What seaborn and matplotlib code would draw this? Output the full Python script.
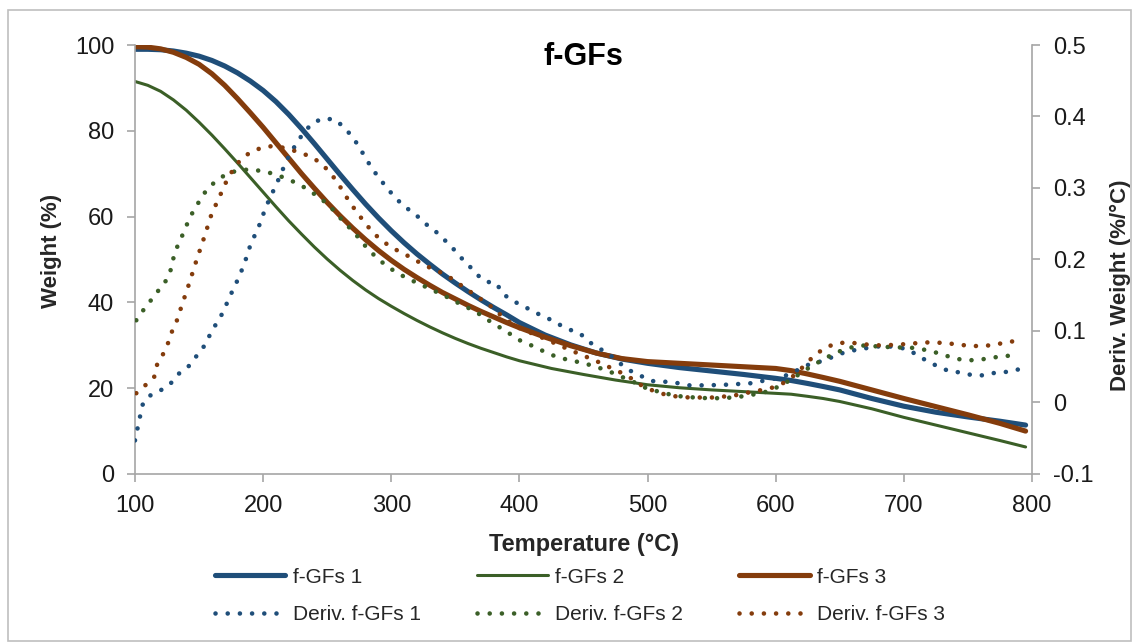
import matplotlib
matplotlib.use("Agg")
import matplotlib.pyplot as plt
from matplotlib.patches import Rectangle
import seaborn as sns
import pandas as pd

# ---------------- data ----------------
t_w1 = [100, 110, 120, 130, 140, 150, 160, 170, 180, 190, 200, 210, 220, 230, 240, 250, 260, 270, 280, 290,
        300, 310, 320, 330, 340, 350, 360, 370, 380, 390, 400, 420, 440, 460, 480, 500, 525, 550, 575, 600,
        612, 625, 637, 650, 675, 700, 725, 750, 775, 795]
w1 = [99.0, 99.0, 98.9, 98.6, 98.1, 97.4, 96.4, 95.1, 93.5, 91.6, 89.4, 86.8, 83.8, 80.5, 77.0, 73.4, 69.8,
      66.3, 62.9, 59.7, 56.7, 53.9, 51.3, 48.9, 46.6, 44.5, 42.5, 40.6, 38.8, 37.1, 35.3, 32.4, 30.1, 28.2,
      26.8, 25.8, 24.8, 24.0, 23.2, 22.3, 21.8, 21.1, 20.4, 19.6, 17.6, 15.8, 14.4, 13.3, 12.3, 11.4]

t_w2 = [100, 110, 120, 130, 140, 150, 160, 170, 180, 190, 200, 210, 220, 230, 240, 250, 260, 270, 280, 290,
        300, 310, 320, 330, 340, 350, 360, 370, 380, 390, 400, 425, 450, 475, 500, 525, 550, 575, 600, 612,
        625, 637, 650, 675, 700, 725, 750, 775, 795]
w2 = [91.5, 90.6, 89.2, 87.2, 84.8, 82.0, 79.0, 75.8, 72.5, 69.1, 65.7, 62.3, 59.0, 55.9, 52.9, 50.1, 47.5,
      45.1, 42.9, 40.9, 39.1, 37.4, 35.8, 34.3, 32.9, 31.6, 30.4, 29.3, 28.3, 27.3, 26.4, 24.6, 23.2, 21.9,
      20.8, 20.1, 19.6, 19.2, 18.8, 18.6, 18.1, 17.6, 16.9, 15.2, 13.2, 11.4, 9.6, 7.8, 6.3]

t_w3 = [100, 110, 120, 130, 140, 150, 160, 170, 180, 190, 200, 210, 220, 230, 240, 250, 260, 270, 280, 290,
        300, 310, 320, 330, 340, 350, 360, 370, 380, 390, 400, 420, 440, 460, 480, 500, 525, 550, 575, 600,
        612, 625, 637, 650, 675, 700, 725, 750, 775, 795]
w3 = [99.6, 99.5, 99.1, 98.3, 97.1, 95.5, 93.3, 90.6, 87.5, 84.2, 80.8, 77.2, 73.6, 70.0, 66.6, 63.3, 60.2,
      57.3, 54.6, 52.1, 49.8, 47.7, 45.8, 44.0, 42.3, 40.8, 39.3, 37.9, 36.6, 35.3, 34.1, 31.9, 29.9, 28.2,
      26.9, 26.2, 25.8, 25.4, 25.0, 24.6, 24.1, 23.3, 22.5, 21.6, 19.6, 17.6, 15.7, 13.8, 11.8, 10.0]

t_d1 = [100, 102, 104, 106, 111, 120, 128, 134, 142, 148, 154, 158, 163, 168, 172, 176, 180, 184, 187, 190,
        194, 198, 201, 205, 209, 213, 217, 221, 226, 231, 238, 246, 256, 263, 270, 275, 280, 285, 291, 297,
        303, 310, 318, 325, 333, 340, 347, 353, 360, 366, 374, 382, 387, 395, 404, 412, 421, 430, 439, 447,
        455, 463, 471, 479, 487, 495, 504, 514, 524, 532, 546, 563, 581, 592, 601, 610, 620, 628, 637, 646,
        655, 664, 674, 683, 692, 702, 710, 718, 726, 735, 744, 754, 763, 772, 782, 791]
d1 = [-0.053, -0.036, -0.019, -0.003, 0.009, 0.017, 0.027, 0.040, 0.051, 0.065, 0.079, 0.093, 0.109, 0.124,
      0.140, 0.156, 0.171, 0.188, 0.203, 0.220, 0.236, 0.252, 0.268, 0.285, 0.300, 0.316, 0.333, 0.348,
      0.362, 0.376, 0.390, 0.397, 0.396, 0.385, 0.371, 0.357, 0.342, 0.327, 0.313, 0.299, 0.287, 0.274,
      0.265, 0.252, 0.242, 0.230, 0.218, 0.205, 0.193, 0.180, 0.169, 0.167, 0.152, 0.142, 0.134, 0.126,
      0.119, 0.110, 0.102, 0.097, 0.084, 0.075, 0.066, 0.054, 0.044, 0.037, 0.030, 0.029, 0.027, 0.024,
      0.024, 0.025, 0.027, 0.031, 0.034, 0.039, 0.048, 0.055, 0.058, 0.065, 0.071, 0.074, 0.077, 0.079,
      0.078, 0.075, 0.067, 0.058, 0.051, 0.044, 0.042, 0.038, 0.038, 0.042, 0.043, 0.047]

t_d2 = [101, 106, 112, 118, 124, 128, 130, 133, 137, 141, 145, 150, 155, 162, 170, 179, 189, 198, 208, 217,
        226, 234, 242, 250, 257, 263, 270, 276, 282, 289, 297, 305, 313, 322, 331, 340, 348, 357, 366, 374,
        382, 391, 399, 408, 416, 426, 435, 445, 454, 463, 472, 481, 490, 499, 509, 518, 528, 537, 547, 557,
        566, 576, 585, 595, 604, 613, 621, 629, 638, 646, 655, 665, 674, 684, 693, 704, 713, 723, 732, 741,
        751, 760, 770, 780, 789]
d2 = [0.115, 0.128, 0.142, 0.156, 0.170, 0.186, 0.202, 0.218, 0.234, 0.251, 0.266, 0.281, 0.295, 0.308,
      0.318, 0.324, 0.326, 0.324, 0.320, 0.314, 0.307, 0.299, 0.289, 0.278, 0.265, 0.252, 0.240, 0.227,
      0.214, 0.202, 0.190, 0.181, 0.173, 0.166, 0.158, 0.151, 0.143, 0.135, 0.127, 0.117, 0.108, 0.098,
      0.088, 0.081, 0.074, 0.066, 0.061, 0.057, 0.053, 0.048, 0.042, 0.035, 0.028, 0.020, 0.015, 0.011,
      0.008, 0.007, 0.006, 0.006, 0.007, 0.009, 0.012, 0.016, 0.024, 0.033, 0.043, 0.052, 0.061, 0.069,
      0.075, 0.080, 0.079, 0.078, 0.077, 0.077, 0.075, 0.071, 0.066, 0.061, 0.059, 0.060, 0.063, 0.065,
      0.067]

t_d3 = [101, 108, 115, 117, 122, 126, 129, 133, 136, 139, 142, 145, 148, 151, 154, 157, 160, 164, 168, 172,
        177, 183, 191, 200, 209, 219, 228, 237, 245, 252, 258, 263, 268, 274, 280, 286, 293, 301, 310, 318,
        327, 335, 344, 352, 360, 368, 376, 383, 391, 400, 420, 440, 460, 479, 488, 496, 505, 514, 524, 533,
        543, 553, 563, 572, 581, 591, 600, 609, 617, 624, 631, 639, 648, 657, 667, 676, 686, 695, 705, 714,
        724, 733, 743, 752, 762, 772, 781, 791]
d3 = [0.013, 0.024, 0.036, 0.052, 0.068, 0.084, 0.100, 0.116, 0.133, 0.149, 0.165, 0.182, 0.199, 0.215,
      0.231, 0.248, 0.265, 0.280, 0.296, 0.312, 0.327, 0.341, 0.351, 0.357, 0.359, 0.355, 0.350, 0.344,
      0.335, 0.322, 0.308, 0.293, 0.279, 0.264, 0.250, 0.237, 0.226, 0.216, 0.208, 0.200, 0.191, 0.185,
      0.177, 0.167, 0.157, 0.147, 0.137, 0.126, 0.114, 0.104, 0.089, 0.073, 0.058, 0.042, 0.033, 0.023,
      0.016, 0.011, 0.008, 0.007, 0.007, 0.007, 0.009, 0.011, 0.015, 0.018, 0.022, 0.030, 0.042, 0.055,
      0.067, 0.077, 0.083, 0.084, 0.082, 0.080, 0.080, 0.081, 0.082, 0.084, 0.084, 0.083, 0.081, 0.079,
      0.079, 0.081, 0.085, 0.086]

x_ticks = [100, 200, 300, 400, 500, 600, 700, 800]
y_ticks = [0, 20, 40, 60, 80, 100]
y2_ticks = [-0.1, 0, 0.1, 0.2, 0.3, 0.4, 0.5]

names_w = ["f-GFs 1", "f-GFs 2", "f-GFs 3"]
names_d = ["Deriv. f-GFs 1", "Deriv. f-GFs 2", "Deriv. f-GFs 3"]
colors = ["#1f4e79", "#3b5f27", "#843c0c"]

# ---------------- style ----------------
sns.set_theme(style="white")
plt.rcParams["font.family"] = ["Liberation Sans", "DejaVu Sans"]
plt.rcParams["axes.unicode_minus"] = False

W, H = 1132, 642
fig = plt.figure(figsize=(W / 100, H / 100), dpi=100)
L, R, T, B = 135, 1032, 45, 474
ax = fig.add_axes([L / W, 1 - B / H, (R - L) / W, (B - T) / H])
ax2 = ax.twinx()

thick = [3.7, 2.2, 3.7]
w_data = [(t_w1, w1), (t_w2, w2), (t_w3, w3)]
d_data = [(t_d1, d1), (t_d2, d2), (t_d3, d3)]

handles = []
for i in range(3):
    tx, ty = w_data[i]
    df = pd.DataFrame({"T": tx, "v": ty})
    sns.lineplot(data=df, x="T", y="v", ax=ax, color=colors[i], lw=thick[i],
                 legend=False, solid_capstyle="round", solid_joinstyle="round")
    hw = ax.lines[-1]
    tx, ty = d_data[i]
    df = pd.DataFrame({"T": tx, "v": ty})
    sns.lineplot(data=df, x="T", y="v", ax=ax2, color=colors[i], lw=3.3,
                 linestyle=(0, (0.01, 2.65)), dash_capstyle="round", legend=False)
    hd = ax2.lines[-1]
    hw.set_label(names_w[i])
    hd.set_label(names_d[i])
    handles += [hw, hd]

gray = "#A6A6A6"
ax.set_xlim(100, 800)
ax.set_ylim(0, 100)
ax2.set_ylim(-0.1, 0.5)
ax.set_xticks(x_ticks)
ax.set_yticks(y_ticks)
ax2.set_yticks(y2_ticks)
ax2.set_yticklabels([f"{v:g}" for v in y2_ticks])
ax.set_xlabel("")
ax.set_ylabel("")
ax2.set_ylabel("")

for a in (ax, ax2):
    for s in a.spines.values():
        s.set_color(gray)
        s.set_linewidth(1.2)
    a.spines["top"].set_visible(False)
    a.grid(False)
ax.spines["right"].set_visible(False)
ax2.spines["left"].set_visible(False)
ax2.spines["bottom"].set_visible(False)

ax.tick_params(axis="both", direction="out", length=6, width=1.2, color=gray,
               labelsize=17, labelcolor="#1a1a1a", pad=9, left=True, bottom=True)
ax2.tick_params(axis="y", direction="out", length=6, width=1.2, color=gray,
                labelsize=17, labelcolor="#1a1a1a", pad=9, right=True)

# titles and axis labels
ax.text(0.5, 1 - 12 / 429, "f-GFs", transform=ax.transAxes, ha="center", va="center",
        fontsize=22, fontweight="bold", color="black")
fig.text(584 / W, 1 - 544 / H, "Temperature (°C)", ha="center", va="center",
         fontsize=17, fontweight="bold")
fig.text(52 / W, 1 - 251 / H, "Weight (%)", ha="center", va="center", rotation=90,
         fontsize=16, fontweight="bold")
fig.text(1120 / W, 1 - 285 / H, "Deriv. Weight (%/°C)", ha="center", va="center",
         rotation=90, fontsize=16, fontweight="bold")

fig.legend(handles=handles, labels=[h.get_label() for h in handles], ncol=3,
           loc="center", bbox_to_anchor=(580 / W, 1 - 596 / H), frameon=False,
           fontsize=15, handlelength=3.4, handletextpad=0.35, columnspacing=2.7,
           labelspacing=0.9, borderpad=0.2)

fig.patches.append(Rectangle((8 / W, 1 / H), (W - 9) / W, (H - 11) / H,
                             transform=fig.transFigure, fill=False,
                             edgecolor="#BFBFBF", lw=1.2))

fig.savefig("out.png", dpi=100)
